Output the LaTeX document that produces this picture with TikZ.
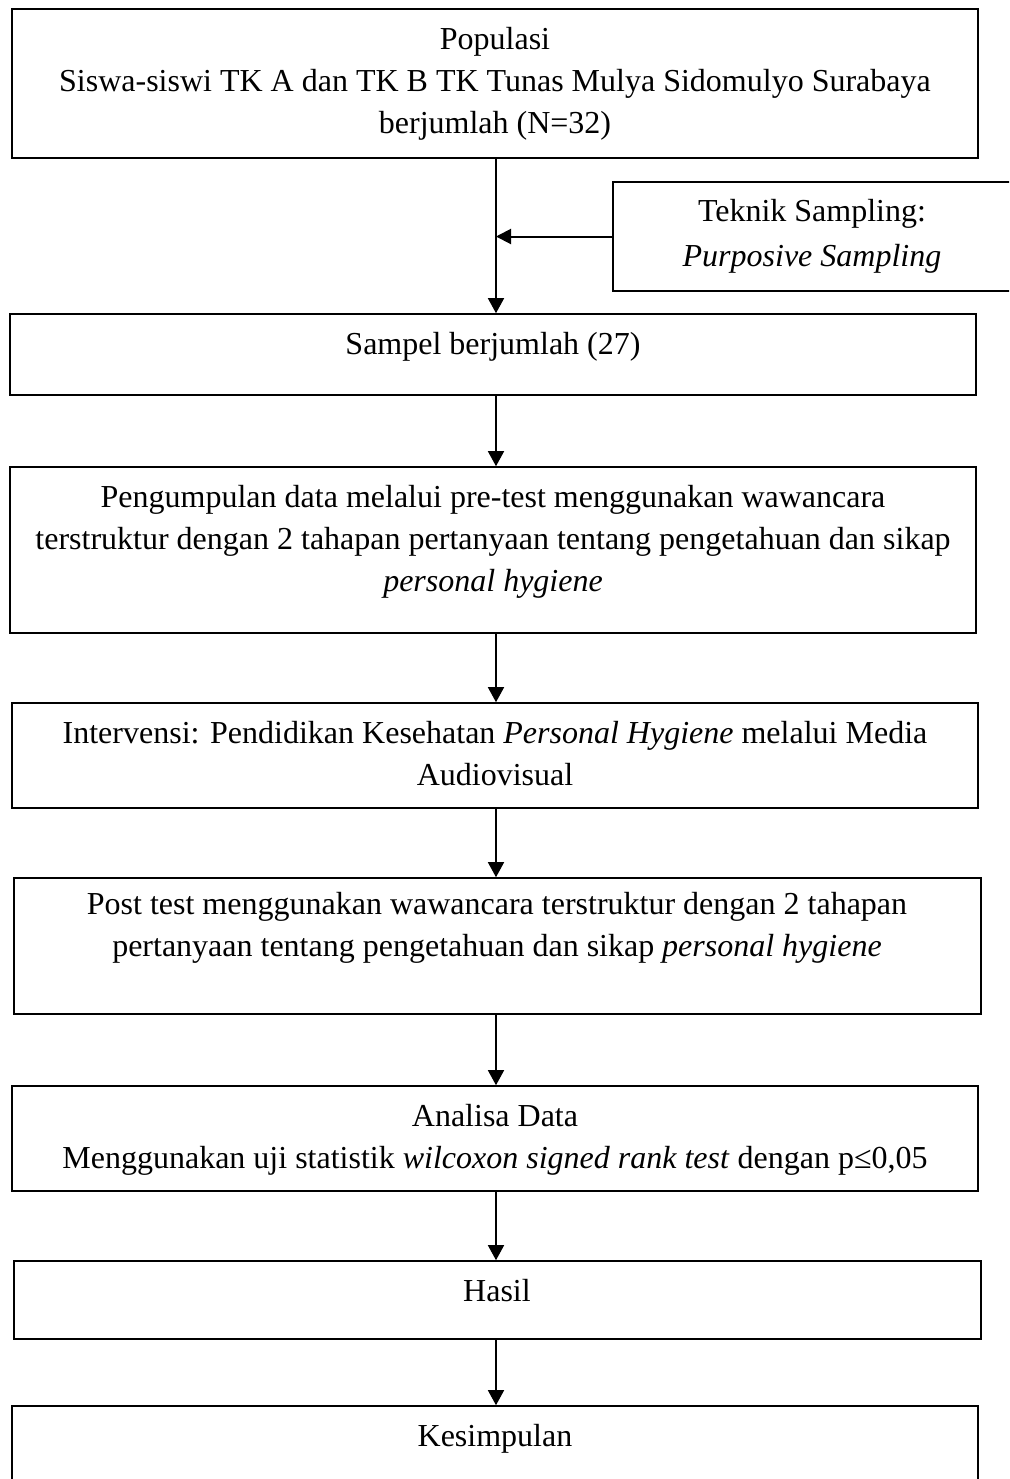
\documentclass[tikz,border=0pt]{standalone}
\usepackage{fontspec}
\setmainfont{Liberation Serif}
\usetikzlibrary{arrows.meta,fit}
\begin{document}
\begin{tikzpicture}[x=0.5pt,y=-0.5pt,
  box/.style={draw,line width=0.8pt,inner sep=0pt,rectangle},
  txt/.style={anchor=base,inner sep=0pt,font=\fontsize{16pt}{20pt}\selectfont},
  arr/.style={line width=0.75pt,-{Triangle[length=7.5pt,width=8pt]}},
  harr/.style={line width=1pt,-{Triangle[length=7.5pt,width=7.5pt]}}]
\useasboundingbox (0,0) rectangle (1009,1479);
\fill[white] (0,0) rectangle (1009,1479);
\clip (0,0) rectangle (1009,1479);
\coordinate (ax) at (496,0);
% boxes
\node (b1) [box, fit={(12,9) (978,158)}] {};
\node (tek) [box, fit={(613,182) (1012,291)}] {};
\node (b2) [box, fit={(10,314) (976,395)}] {};
\node (b3) [box, fit={(10,467) (976,633)}] {};
\node (b4) [box, fit={(12,703) (978,808)}] {};
\node (b5) [box, fit={(14,878) (981,1014)}] {};
\node (b6) [box, fit={(12,1086) (978,1191)}] {};
\node (b7) [box, fit={(14,1261) (981,1339)}] {};
\node (b8) [box, fit={(12,1406) (978,1500)}] {};
% texts
\node (t1a) [txt] at (495,49) {Populasi};
\node (t1b) [txt] at (495,91) {Siswa-siswi TK A dan TK B TK Tunas Mulya Sidomulyo Surabaya};
\node (t1c) [txt] at (495,133) {berjumlah (N=32)};
\node (tka) [txt] at (812,221) {Teknik Sampling:};
\node (tkb) [txt] at (812,266) {\textit{Purposive Sampling}};
\node (t2a) [txt] at (493,354) {Sampel berjumlah (27)};
\node (t3a) [txt] at (493,507) {Pengumpulan data melalui pre-test menggunakan wawancara};
\node (t3b) [txt] at (493,549) {terstruktur dengan 2 tahapan pertanyaan tentang pengetahuan dan sikap};
\node (t3c) [txt] at (493,591) {\textit{personal hygiene}};
\node (t4a) [txt] at (495,743) {Intervensi: Pendidikan Kesehatan \textit{Personal Hygiene} melalui Media};
\node (t4b) [txt] at (495,785) {Audiovisual};
\node (t5a) [txt] at (497,914) {Post test menggunakan wawancara terstruktur dengan 2 tahapan};
\node (t5b) [txt] at (497,956) {pertanyaan tentang pengetahuan dan sikap \textit{personal hygiene}};
\node (t6a) [txt] at (495,1126) {Analisa Data};
\node (t6b) [txt] at (495,1168) {Menggunakan uji statistik \textit{wilcoxon signed rank test} dengan p≤0,05};
\node (t7a) [txt] at (497,1301) {Hasil};
\node (t8a) [txt] at (495,1446) {Kesimpulan};
% connectors
\draw[arr] (b1.south -| ax) -- (b2.north -| ax);
\draw[harr] (tek.west) -- (tek.west -| ax);
\draw[arr] (b2.south -| ax) -- (b3.north -| ax);
\draw[arr] (b3.south -| ax) -- (b4.north -| ax);
\draw[arr] (b4.south -| ax) -- (b5.north -| ax);
\draw[arr] (b5.south -| ax) -- (b6.north -| ax);
\draw[arr] (b6.south -| ax) -- (b7.north -| ax);
\draw[arr] (b7.south -| ax) -- (b8.north -| ax);
\end{tikzpicture}
\end{document}
